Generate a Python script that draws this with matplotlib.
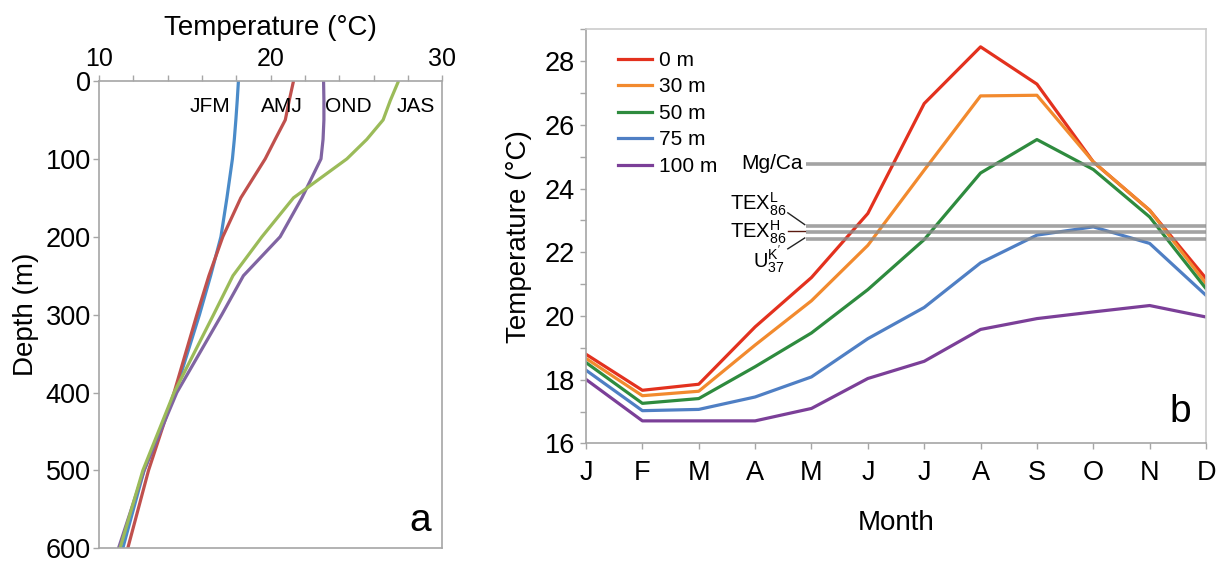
import numpy as np
import matplotlib
matplotlib.use("Agg")
import matplotlib.pyplot as plt
from matplotlib.ticker import MultipleLocator

plt.rcParams["font.family"] = ["Liberation Sans", "DejaVu Sans"]
plt.rcParams["mathtext.fontset"] = "custom"
plt.rcParams["mathtext.rm"] = "Liberation Sans"
plt.rcParams["mathtext.it"] = "Liberation Sans"

# ── panel a: seasonal depth profiles ─────────────────────────────
depths = [0, 25, 50, 75, 100, 150, 200, 250, 300, 400, 500, 600]
t_jfm = [18.12, 18.05, 17.97, 17.88, 17.77, 17.45, 17.10, 16.50, 15.85, 14.43, 12.62, 11.38]
t_amj = [21.33, 21.08, 20.85, 20.26, 19.68, 18.26, 17.21, 16.40, 15.70, 14.37, 12.88, 11.67]
t_ond = [23.08, 23.10, 23.10, 23.05, 22.93, 21.82, 20.55, 18.41, 17.15, 14.53, 12.62, 11.13]
t_jas = [27.45, 26.97, 26.55, 25.60, 24.44, 21.33, 19.49, 17.80, 16.67, 14.37, 12.55, 11.22]
seasons = ["JFM", "AMJ", "OND", "JAS"]

# ── panel b: monthly temperature at depth ────────────────────────
months = ["J", "F", "M", "A", "M", "J", "J", "A", "S", "O", "N", "D"]
t_0m   = [18.80, 17.67, 17.86, 19.66, 21.21, 23.22, 26.67, 28.45, 27.28, 24.84, 23.32, 21.18]
t_30m  = [18.67, 17.50, 17.64, 19.09, 20.48, 22.22, 24.58, 26.91, 26.93, 24.84, 23.32, 21.02]
t_50m  = [18.54, 17.26, 17.41, 18.41, 19.47, 20.83, 22.40, 24.49, 25.54, 24.60, 23.11, 20.86]
t_75m  = [18.30, 17.03, 17.07, 17.46, 18.09, 19.29, 20.27, 21.67, 22.54, 22.80, 22.28, 20.65]
t_100m = [18.01, 16.71, 16.71, 16.71, 17.10, 18.04, 18.58, 19.58, 19.92, 20.13, 20.33, 19.97]
depth_labels = ["0 m", "30 m", "50 m", "75 m", "100 m"]

proxy_names = ["Mg/Ca", r"TEX$_{86}^{\mathrm{L}}$", r"TEX$_{86}^{\mathrm{H}}$", r"U$_{37}^{\mathrm{K'}}$"]
proxy_temps = [24.78, 22.82, 22.64, 22.42]

SPINE = "#a6a6a6"
FS_TICK = 19.5
FS_LAB = 20

fig = plt.figure(figsize=(12.26, 5.68), dpi=100)

# ── panel a ──────────────────────────────────────────────────────
axa = fig.add_axes([0.0808, 0.0345, 0.2800, 0.8230])
cols_a = ["#4a8bc9", "#c0504d", "#8064a2", "#9bbb59"]
for prof, c in zip([t_jfm, t_amj, t_ond, t_jas], cols_a):
    axa.plot(prof, depths, color=c, lw=2.3, solid_capstyle="butt")

axa.set_xlim(10, 30)
axa.set_ylim(600, 0)
axa.xaxis.tick_top()
axa.xaxis.set_label_position("top")
axa.xaxis.set_major_locator(MultipleLocator(10))
axa.xaxis.set_minor_locator(MultipleLocator(2))
axa.yaxis.set_major_locator(MultipleLocator(100))
axa.tick_params(axis="x", which="both", direction="out", length=4, width=1,
                color=SPINE, labelsize=18, pad=3)
axa.tick_params(axis="y", which="both", direction="out", length=4, width=1,
                color=SPINE, labelsize=FS_TICK, pad=2)
axa.set_xlabel("Temperature (°C)", fontsize=FS_LAB, labelpad=9)
axa.set_ylabel("Depth (m)", fontsize=FS_LAB, labelpad=5)
for s in axa.spines.values():
    s.set_color(SPINE)
    s.set_linewidth(1.2)

for name, x in zip(seasons, [16.47, 20.67, 24.52, 28.48]):
    axa.text(x, 33, name, fontsize=15, ha="center", va="center")
axa.text(0.936, 0.058, "a", transform=axa.transAxes, fontsize=28,
         ha="center", va="center")

# ── panel b ──────────────────────────────────────────────────────
axb = fig.add_axes([0.4780, 0.2192, 0.5057, 0.7292])
cols_b = ["#e3311e", "#f28a2e", "#2e8b3e", "#4f7fc4", "#7b3f98"]
x = np.arange(len(months))
for series, c, lab in zip([t_0m, t_30m, t_50m, t_75m, t_100m], cols_b, depth_labels):
    axb.plot(x, series, color=c, lw=2.3, label=lab)

for t in proxy_temps:
    axb.plot([3.9, 11], [t, t], color="#8c8c8c", lw=2.6, alpha=0.8,
             solid_capstyle="butt", zorder=5)

# proxy labels
axb.text(3.84, proxy_temps[0], proxy_names[0], fontsize=15, ha="right", va="center")
axb.text(3.56, 23.52, proxy_names[1], fontsize=14.5, ha="right", va="center")
axb.text(3.56, 22.64, proxy_names[2], fontsize=14.5, ha="right", va="center")
axb.text(3.53, 21.76, proxy_names[3], fontsize=14.5, ha="right", va="center")
axb.plot([3.58, 3.88], [23.24, 22.87], color="#222222", lw=1)
axb.plot([3.58, 3.88], [22.66, 22.66], color="#5a1a10", lw=1)
axb.plot([3.58, 3.88], [22.11, 22.45], color="#222222", lw=1)

axb.set_xlim(0, 11)
axb.set_ylim(16, 29)
axb.set_xticks(x)
axb.set_xticklabels(months)
axb.yaxis.set_major_locator(MultipleLocator(2))
axb.yaxis.set_minor_locator(MultipleLocator(1))
axb.tick_params(axis="both", which="both", direction="out", length=4, width=1,
                color=SPINE, labelsize=FS_TICK)
axb.tick_params(axis="x", pad=8)
axb.tick_params(axis="y", pad=4)
axb.set_xlabel("Month", fontsize=FS_LAB, labelpad=17)
axb.set_ylabel("Temperature (°C)", fontsize=FS_LAB, labelpad=9)
for s in axb.spines.values():
    s.set_color(SPINE)
    s.set_linewidth(1.2)
axb.spines["right"].set_color("#cccccc")
axb.spines["top"].set_color("#cccccc")

axb.legend(loc="upper left", bbox_to_anchor=(0.052, 0.948), frameon=False,
           fontsize=15, handlelength=1.6, handletextpad=0.35, labelspacing=0.36,
           borderpad=0, borderaxespad=0)
axb.text(0.958, 0.076, "b", transform=axb.transAxes, fontsize=28,
         ha="center", va="center")

fig.savefig("out.png", dpi=100)
